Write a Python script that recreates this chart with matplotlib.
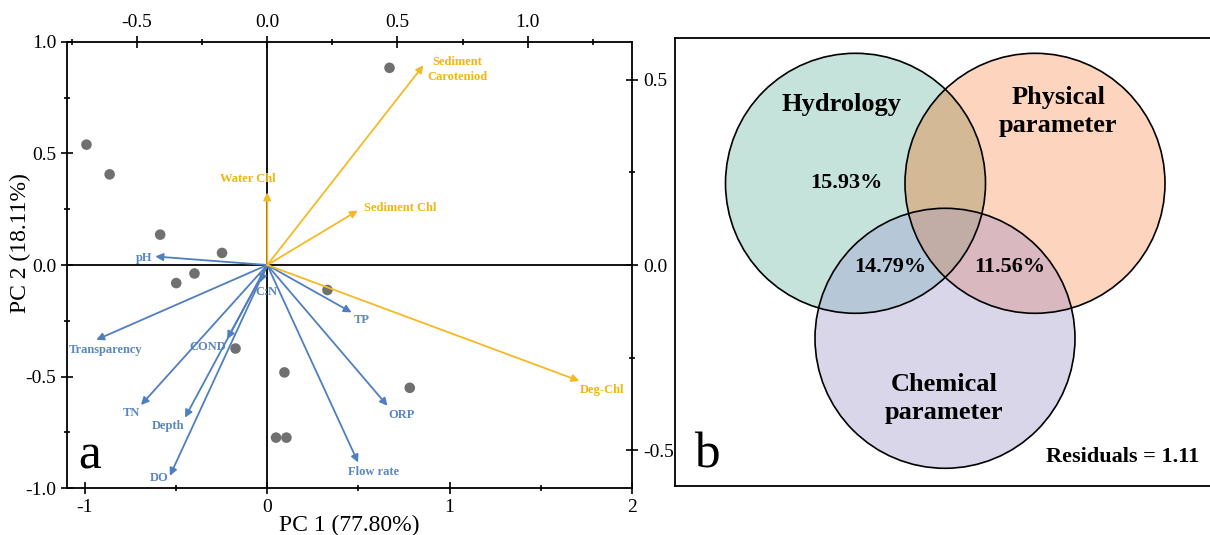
import numpy as np
import matplotlib
matplotlib.use("Agg")
import matplotlib.pyplot as plt
from matplotlib.patches import Circle
from matplotlib.ticker import FixedLocator

plt.rcParams['font.family'] = ['Liberation Serif', 'DejaVu Serif']
plt.rcParams['axes.unicode_minus'] = False

# sample scores (bottom / left axes)
pc1 = [0.671, -0.990, -0.863, -0.586, -0.247, -0.398, -0.498, 0.331, -0.173, 0.095, 0.782, 0.049, 0.106]
pc2 = [0.883, 0.539, 0.406, 0.136, 0.054, -0.038, -0.081, -0.112, -0.374, -0.481, -0.550, -0.773, -0.773]

# pigment loadings (top / right axes)
chl_vars = ['Sediment\nCaroteniod', 'Water Chl', 'Sediment Chl', 'Deg-Chl']
chl_x = [0.600, 0.0, 0.348, 1.199]
chl_y = [0.539, 0.196, 0.147, -0.313]

# environmental loadings (top / right axes)
env_vars = ['pH', 'Transparency', 'COND', 'TN', 'Depth', 'DO', 'C:N', 'TP', 'ORP', 'Flow rate']
env_x = [-0.430, -0.657, -0.154, -0.485, -0.316, -0.374, -0.028, 0.324, 0.462, 0.349]
env_y = [0.023, -0.202, -0.200, -0.378, -0.412, -0.569, -0.047, -0.128, -0.380, -0.533]

# axis ticks
bx_ticks = [-1, 0, 1, 2]
ly_ticks = [-1.0, -0.5, 0.0, 0.5, 1.0]
tx_ticks = [-0.5, 0.0, 0.5, 1.0]
ry_ticks = [-0.5, 0.0, 0.5]

# venn panel text
venn_sets = ['Hydrology', 'Physical\nparameter', 'Chemical\nparameter']
venn_pcts = ['15.93%', '14.79%', '11.56%']
residuals = 1.11

# label offsets from arrow tips (pixels)
chl_off = [(34, -4), (-19, 13), (42, 3), (23, -9)]
env_off = [(-11, -2), (9, -10), (-19, -8), (-10, -8), (-17, -8), (-11, -2),
           (6, -10), (10, -8), (14, -9), (15, -10)]

BLUE = '#4f7fbf'
BLUE_TXT = '#5a86c2'
GOLD = '#f6b926'
GOLD_TXT = '#f3b60e'

W, H = 1210, 535
fig = plt.figure(figsize=(W / 100, H / 100), dpi=100)


def frac(x0, y0, x1, y1):
    return [x0 / W, 1 - y1 / H, (x1 - x0) / W, (y1 - y0) / H]


def mids(t):
    return [(a + b) / 2 for a, b in zip(t[:-1], t[1:])]


# ---------------- panel a ----------------
pos_a = frac(67.3, 41.7, 632, 488.3)
ax = fig.add_axes(pos_a)
ax.set_xlim(-1.095, 2)
ax.set_ylim(-1, 1)
ax.axhline(0, color='black', lw=1.3, zorder=1)
ax.axvline(0, color='black', lw=1.3, zorder=1)
ax.scatter(pc1, pc2, s=58, color='#707070', edgecolors='none', zorder=3)
ax.xaxis.set_major_locator(FixedLocator(bx_ticks))
ax.xaxis.set_minor_locator(FixedLocator(mids(bx_ticks)))
ax.yaxis.set_major_locator(FixedLocator(ly_ticks))
ax.yaxis.set_minor_locator(FixedLocator(mids(ly_ticks)))
ax.set_xticklabels(['%d' % v for v in bx_ticks])
ax.set_yticklabels(['%.1f' % v for v in ly_ticks])
ax.tick_params(which='major', direction='inout', length=8, width=1.2, labelsize=14, pad=4)
ax.tick_params(which='minor', direction='inout', length=5, width=1.2)
for s in ax.spines.values():
    s.set_linewidth(1.3)
ax.text(0.040, 0.045, 'a', transform=ax.transAxes, fontsize=37, ha='center', va='baseline')

ax2 = fig.add_axes(pos_a, frameon=False)
ax2.set_xlim(-0.768, 1.401)
ax2.set_ylim(-0.6027, 0.6027)
ax2.xaxis.tick_top()
ax2.yaxis.tick_right()
ax2.xaxis.set_major_locator(FixedLocator(tx_ticks))
ax2.xaxis.set_minor_locator(FixedLocator([-0.75] + mids(tx_ticks) + [1.25]))
ax2.yaxis.set_major_locator(FixedLocator(ry_ticks))
ax2.yaxis.set_minor_locator(FixedLocator(mids(ry_ticks)))
ax2.set_xticklabels(['%.1f' % v for v in tx_ticks])
ax2.set_yticklabels(['%.1f' % v for v in ry_ticks])
ax2.tick_params(which='major', direction='inout', length=8, width=1.2, labelsize=14, pad=4)
ax2.tick_params(which='minor', direction='inout', length=5, width=1.2)

for lx, ly in zip(env_x, env_y):
    ax2.annotate('', xy=(lx, ly), xytext=(0, 0),
                 arrowprops=dict(arrowstyle='-|>', color=BLUE, lw=1.3, mutation_scale=11,
                                 shrinkA=0, shrinkB=0), zorder=4)
for lx, ly in zip(chl_x, chl_y):
    ax2.annotate('', xy=(lx, ly), xytext=(0, 0),
                 arrowprops=dict(arrowstyle='-|>', color=GOLD, lw=1.3, mutation_scale=11,
                                 shrinkA=0, shrinkB=0), zorder=4)
for name, lx, ly, off in zip(env_vars, env_x, env_y, env_off):
    ax2.annotate(name, xy=(lx, ly), xytext=off, textcoords='offset pixels',
                 ha='center', va='center', fontsize=9, fontweight='bold', color=BLUE_TXT)
for name, lx, ly, off in zip(chl_vars, chl_x, chl_y, chl_off):
    ax2.annotate(name, xy=(lx, ly), xytext=off, textcoords='offset pixels',
                 ha='center', va='center', fontsize=9, fontweight='bold', color=GOLD_TXT,
                 linespacing=1.4)

fig.text(349.6 / W, 1 - 525 / H, 'PC 1 (77.80%)', fontsize=17, ha='center', va='center')
fig.text(20 / W, 1 - 243 / H, 'PC 2 (18.11%)', fontsize=17, ha='center', va='center', rotation=90)

# ---------------- panel b ----------------
bw, bh = 537, 447.8
axb = fig.add_axes(frac(675, 37.7, 675 + bw, 485.5))
axb.set_xticks([])
axb.set_yticks([])
for s in axb.spines.values():
    s.set_linewidth(1.3)

r = 130
centers = [(180.5, 302.2), (360.0, 302.2), (270.0, 147.2)]
xs = np.arange(0, bw) + 0.5
ys = np.arange(0, int(bh) + 1) + 0.5
X, Y = np.meshgrid(xs, ys)
code = np.zeros(X.shape, dtype=int)
for i, (cx, cy) in enumerate(centers):
    code += ((X - cx) ** 2 + (Y - cy) ** 2 <= r ** 2).astype(int) << i
region_colors = ['#ffffff', '#c5e3da', '#fdd5bf', '#d3b996',
                 '#dad6ea', '#b6c8d8', '#dab8c0', '#c1aca6']
rgb = np.array([matplotlib.colors.to_rgb(c) for c in region_colors])
axb.imshow(rgb[code], extent=(0, bw, 0, ys[-1] + 0.5), origin='lower',
           interpolation='nearest', aspect='auto', zorder=1)
for cx, cy in centers:
    axb.add_patch(Circle((cx, cy), r, fill=False, ec='black', lw=1.2, zorder=2))
axb.set_xlim(0, bw)
axb.set_ylim(0, bh)

tk = dict(fontweight='bold', ha='center', va='center', zorder=3)
axb.text(166.7, 380.5, venn_sets[0], fontsize=19, **tk)
axb.text(383, 374, venn_sets[1], fontsize=19, linespacing=1.25, **tk)
axb.text(269.5, 87, venn_sets[2], fontsize=19, linespacing=1.25, **tk)
axb.text(171.7, 302.2, venn_pcts[0], fontsize=16, **tk)
axb.text(215, 219, venn_pcts[1], fontsize=16, **tk)
axb.text(335, 219, venn_pcts[2], fontsize=16, **tk)
axb.text(448, 28.8, 'Residuals = %.2f' % residuals, fontsize=16, **tk)
axb.text(31.7, 17.5, 'b', fontsize=37, ha='center', va='baseline', zorder=3)

fig.savefig('out.png', dpi=100)
